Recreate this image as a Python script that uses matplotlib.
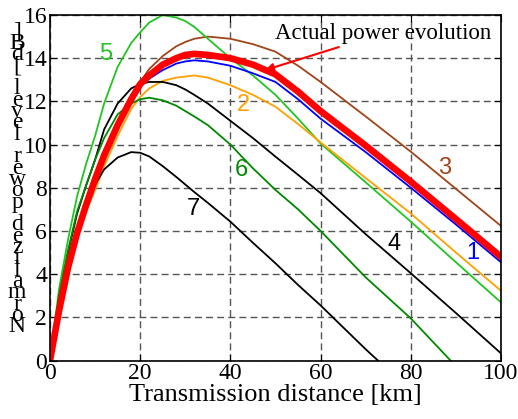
import numpy as np
import matplotlib
matplotlib.use("Agg")
import matplotlib.pyplot as plt

plt.rcParams['font.family'] = ['Liberation Serif', 'DejaVu Serif']

# Transmission distance [km] (shared x positions)
dist = [0, 2, 4, 6, 8, 10, 12, 15, 18, 20, 22, 25, 28, 30, 32, 35, 40, 45, 50, 55, 60, 70, 80, 90, 100]

# Normalized power level [dB] for each case
p1 = [0, 2.3, 4.3, 5.9, 7.2, 8.4, 9.5, 10.9, 12.05, 12.7, 13.05, 13.45, 13.75, 13.85, 13.9, 13.85,
      13.65, 13.3, 12.9, 12.1, 11.2, 9.65, 8.0, 6.3, 4.55]
p2 = [0, 2.2, 4.1, 5.6, 6.9, 7.9, 9.0, 10.4, 11.65, 12.2, 12.6, 12.95, 13.1, 13.15, 13.2, 13.1,
      12.75, 12.3, 11.75, 10.95, 10.1, 8.45, 6.81, 5.0, 3.23]
p3 = [0, 2.3, 4.3, 5.9, 7.2, 8.4, 9.6, 11.0, 12.2, 12.9, 13.5, 14.1, 14.55, 14.75, 14.9, 15.0,
      14.9, 14.65, 14.3, 13.65, 12.9, 11.3, 9.67, 7.95, 6.23]
p4 = [0, 2.9, 5.0, 6.8, 8.1, 9.3, 10.7, 11.9, 12.6, 12.8, 12.9, 12.9, 12.75, 12.55, 12.3, 11.9,
      11.1, 10.3, 9.44, 8.6, 7.75, 5.85, 4.04, 2.2, 0.33]
p5 = [0, 3.3, 5.6, 7.6, 9.1, 10.4, 11.9, 13.6, 14.7, 15.2, 15.65, 16.0, 15.88, 15.72, 15.45, 14.9,
      14.0, 13.2, 12.3, 11.2, 10.05, 8.25, 6.43, 4.55, 2.69]
dist6 = dist[:23] + [88.8]
p6 = [0, 3.0, 5.1, 6.9, 8.1, 9.3, 10.3, 11.4, 11.9, 12.1, 12.17, 12.05, 11.8, 11.55, 11.3, 10.9,
      10.0, 8.9, 7.9, 7.0, 6.0, 3.85, 1.95, 0]
dist7 = dist[:22] + [72.7]
p7 = [0, 2.3, 4.3, 5.9, 7.15, 8.15, 8.85, 9.4, 9.65, 9.62, 9.45, 9.0, 8.5, 8.15, 7.8, 7.3,
      6.43, 5.45, 4.5, 3.5, 2.55, 0.52, 0]
actual = [0, 2.3, 4.3, 5.9, 7.2, 8.4, 9.5, 10.9, 12.1, 12.8, 13.2, 13.7, 14.0, 14.15, 14.2, 14.15,
          14.0, 13.7, 13.25, 12.45, 11.55, 9.95, 8.28, 6.55, 4.8]

# curve labels: (text, x, y, color)
labels = [("1", 93.8, 5.0, '#0000ff'), ("2", 42.8, 11.85, '#ffa000'), ("3", 87.6, 8.9, '#a0441a'),
          ("4", 76.3, 5.4, 'black'), ("5", 12.4, 14.2, '#22c422'), ("6", 42.4, 8.8, '#008800'),
          ("7", 31.7, 7.0, 'black')]

fig = plt.figure(figsize=(5.18, 4.19), dpi=100)
ax = fig.add_axes([50 / 518, 1 - 360.5 / 419, 451 / 518, 345.5 / 419])

ax.plot(dist, p3, color='#a0441a', lw=1.3)
ax.plot(dist, p5, color='#22c422', lw=1.3)
ax.plot(dist, p2, color='#ffa000', lw=1.3)
ax.plot(dist, p4, color='black', lw=1.3)
ax.plot(dist6, p6, color='#008800', lw=1.3)
ax.plot(dist7, p7, color='black', lw=1.3)
ax.plot(dist, p1, color='#0000ff', lw=1.3)
ax.plot(dist, actual, color='#ff0000', lw=4.8, solid_capstyle='round')

for txt, x, y, c in labels:
    ax.text(x, y, txt, color=c, fontsize=17, ha='center', va='center',
            family=['Liberation Sans', 'DejaVu Sans'])

ax.annotate('Actual power evolution', xy=(47.7, 13.45), xytext=(73.8, 15.15),
            ha='center', va='center', fontsize=16.5,
            arrowprops=dict(arrowstyle='-|>', color='red', lw=1.5, mutation_scale=12,
                            shrinkA=1, shrinkB=0))

ax.set_xlim(0, 100)
ax.set_ylim(0, 16)
ax.set_xticks([0, 20, 40, 60, 80, 100])
ax.set_yticks([0, 2, 4, 6, 8, 10, 12, 14, 16])
ax.grid(True, color='#555555', lw=1.0, linestyle=(0, (5, 3)))
ax.tick_params(direction='in', length=5, top=True, right=True, labelsize=17, pad=2)
for s in ax.spines.values():
    s.set_linewidth(1.2)
ax.set_xlabel('Transmission distance [km]', fontsize=19, labelpad=0)

# stacked y label, characters upright from bottom to top
ylab = "Normalized power level [dB]"
for i, ch in enumerate(ylab):
    ax.text(-0.073, 0.097 + i * (0.951 - 0.097) / (len(ylab) - 1), ch, transform=ax.transAxes,
            ha='center', va='center', fontsize=17, clip_on=False)

fig.savefig('out.png', dpi=100)
